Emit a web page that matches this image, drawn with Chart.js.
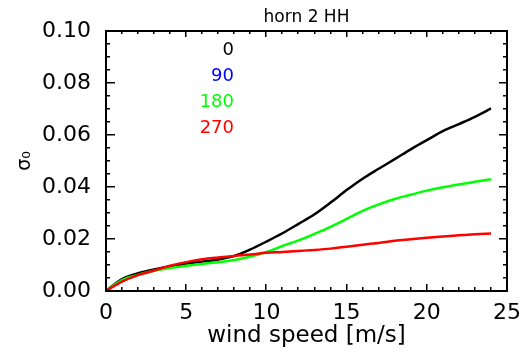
<!DOCTYPE html>
<html>
<head>
<meta charset="utf-8">
<script src="https://cdn.jsdelivr.net/npm/chart.js@4/dist/chart.umd.min.js"></script>
<style>
  body { margin: 0; background: #fff; }
</style>
</head>
<body>
<canvas id="grafica" width="524" height="354"></canvas>
<script>
var viento = [0, 1, 2, 3, 4, 5, 6, 7, 8, 9, 10, 11, 12, 13, 14, 15, 16, 17, 18, 19, 20, 21, 22, 23, 24];
var sigma0   = [0, 0.0046, 0.0068, 0.0083, 0.0095, 0.0105, 0.0113, 0.0121, 0.0135, 0.0160, 0.0190, 0.0222, 0.0258, 0.0295, 0.0340, 0.0388, 0.0432, 0.0470, 0.0507, 0.0545, 0.0580, 0.0615, 0.0642, 0.0670, 0.0702];
var sigma180 = [0, 0.0042, 0.0062, 0.0078, 0.0088, 0.0097, 0.0104, 0.0111, 0.0119, 0.0133, 0.0150, 0.0173, 0.0195, 0.0220, 0.0247, 0.0277, 0.0308, 0.0333, 0.0354, 0.0370, 0.0386, 0.0399, 0.0410, 0.0420, 0.0430];
var sigma270 = [0, 0.0036, 0.0061, 0.0079, 0.0097, 0.0111, 0.0122, 0.0129, 0.0135, 0.0140, 0.0147, 0.0150, 0.0154, 0.0158, 0.0163, 0.0170, 0.0178, 0.0185, 0.0193, 0.0199, 0.0205, 0.0210, 0.0214, 0.0218, 0.0221];
var etiquetas = ['0', '90', '180', '270'];
var colores   = ['#000000', '#0000ff', '#00ff00', '#ff0000'];
var titulo = 'horn 2 HH';

function puntos(valores) {
    var res = [];
    for (var i = 0; i < viento.length; i++) {
        res.push({x: viento[i], y: valores[i]});
    }
    return res;
}

// marco y ticks hacia dentro, estilo IDL (con fillRect)
var marcoIDL = {
    id: 'marcoIDL',
    afterDraw: function(chart) {
        var ctx = chart.ctx;
        var a = chart.chartArea;
        var sx = chart.scales.x;
        var sy = chart.scales.y;
        var l = Math.round(a.left), r = Math.round(a.right);
        var t = Math.round(a.top), b = Math.round(a.bottom);
        ctx.save();
        ctx.fillStyle = '#000';
        ctx.fillRect(l - 1, t - 1, r - l + 2, 2);
        ctx.fillRect(l - 1, b - 1, r - l + 2, 2);
        ctx.fillRect(l - 1, t - 1, 2, b - t + 2);
        ctx.fillRect(r - 1, t - 1, 2, b - t + 2);
        for (var v = 0; v <= 25; v++) {
            var px = Math.round(sx.getPixelForValue(v));
            var mayor = v % 5 === 0;
            ctx.fillRect(px - 1, b - (mayor ? 7 : 4), 1.5, mayor ? 7 : 4);
            ctx.fillRect(px - 1, t, 1.5, mayor ? 6 : 3);
        }
        for (var k = 0; k <= 20; k++) {
            var py = Math.round(sy.getPixelForValue(k * 0.005));
            var may = k % 4 === 0;
            ctx.fillRect(l, py - 1, may ? 9 : 4, 1.5);
            ctx.fillRect(r - (may ? 8 : 4), py - 1, may ? 8 : 4, 1.5);
        }

        // titulo
        ctx.font = '17px "DejaVu Sans"';
        ctx.textAlign = 'center';
        ctx.textBaseline = 'middle';
        ctx.fillText(titulo, (a.left + a.right) / 2, 18);

        // leyenda
        ctx.font = '18px "DejaVu Sans"';
        ctx.textAlign = 'right';
        for (var i = 0; i < etiquetas.length; i++) {
            ctx.fillStyle = colores[i];
            ctx.fillText(etiquetas[i], 234, 50 + i * 26);
        }
        ctx.restore();
    }
};

function generarGrafica() {
    var canvas = document.getElementById('grafica').getContext('2d');

    new Chart(canvas, {
        type: 'line',
        data: {
            datasets: [
                { label: etiquetas[0], data: puntos(sigma0),   borderColor: colores[0], order: 3 },
                { label: etiquetas[2], data: puntos(sigma180), borderColor: colores[2], order: 2 },
                { label: etiquetas[3], data: puntos(sigma270), borderColor: colores[3], order: 1 }
            ]
        },
        options: {
            responsive: false,
            animation: false,
            layout: { padding: { top: 31, right: 17, left: 0, bottom: 0 } },
            elements: {
                line: { borderWidth: 2.5, cubicInterpolationMode: 'monotone' },
                point: { radius: 0 }
            },
            plugins: {
                legend: { display: false },
                tooltip: { enabled: false }
            },
            scales: {
                x: {
                    type: 'linear',
                    min: 0,
                    max: 25,
                    grid: { display: false },
                    border: { display: false },
                    ticks: {
                        stepSize: 5,
                        color: '#000',
                        padding: 1,
                        maxRotation: 0,
                        font: { family: 'DejaVu Sans', size: 22 }
                    },
                    title: {
                        display: true,
                        text: 'wind speed [m/s]',
                        color: '#000',
                        padding: { top: 0, bottom: 4 },
                        font: { family: 'DejaVu Sans', size: 23 }
                    },
                    afterFit: function(scale) { scale.height = 63; }
                },
                y: {
                    min: 0,
                    max: 0.1,
                    grid: { display: false },
                    border: { display: false },
                    ticks: {
                        stepSize: 0.02,
                        color: '#000',
                        padding: 7,
                        font: { family: 'DejaVu Sans', size: 22 },
                        callback: function(v) { return v.toFixed(2); }
                    },
                    title: {
                        display: true,
                        text: 'σ₀',
                        color: '#000',
                        padding: { top: 14, bottom: 0 },
                        font: { family: 'DejaVu Sans', size: 19 }
                    },
                    afterFit: function(scale) { scale.width = 106; }
                }
            }
        },
        plugins: [marcoIDL]
    });
}

generarGrafica();
</script>
</body>
</html>
